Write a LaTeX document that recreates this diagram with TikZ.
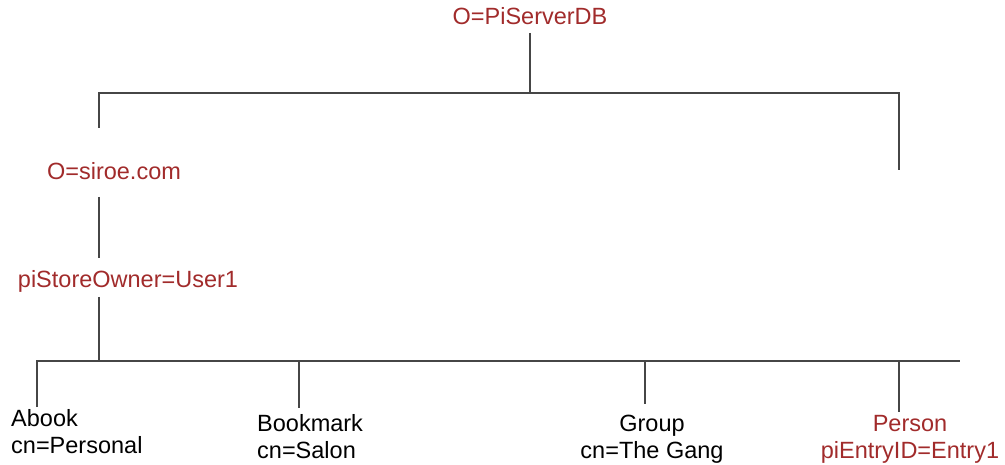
\documentclass[tikz,border=0pt]{standalone}
\usepackage{fontspec}
\setmainfont{Liberation Sans}
\usetikzlibrary{calc}
\definecolor{dnred}{HTML}{A12B2B}
\definecolor{treegray}{HTML}{464646}

\begin{document}
\begin{tikzpicture}
	[x=1pt,y=-1pt,
	entry/.style={font=\fontsize{23.5}{27}\selectfont, inner sep=0pt},
	dnentry/.style={entry, text=dnred},
	branch/.style={draw=treegray, line width=1.3pt}]

	\useasboundingbox (0,0) rectangle (1005,465);

	%Bus coordinates
	\coordinate (topl) at (99,93);
	\coordinate (topr) at (899,93);
	\coordinate (rend) at (899,170);
	\coordinate (jstore) at (99,361);
	\coordinate (lowl) at (37,361);
	\coordinate (lowr) at (960,361);
	\coordinate (jbook) at (299,361);
	\coordinate (jgroup) at (645,361);
	\coordinate (jperson) at (899,361);

	%Entries
	\node[dnentry, anchor=base] (root) at (530,25) {O=PiServerDB};
	\node[dnentry, anchor=base] (siroe) at (114,180) {O=siroe.com};
	\node[dnentry, anchor=base] (owner) at (128,288) {piStoreOwner=User1};
	\node[entry, anchor=north west, align=left] (abook) at (11,409) {Abook\\cn=Personal};
	\node[entry, anchor=north west, align=left] (bookmark) at (257,414) {Bookmark\\cn=Salon};
	\node[entry, anchor=north, align=center] (group) at (652,415) {Group\\cn=The Gang};
	\node[dnentry, anchor=north, align=center] (person) at (910,415) {Person\\piEntryID=Entry1};

	%Upper tree
	\draw[branch, shorten <=8pt] (root.base) -- (root.base |- topl);
	\draw[branch, shorten <=52pt] (siroe.base -| topl) -- (topl) -- (topr) -- (rend);
	\draw[branch, shorten <=17pt, shorten >=30pt] (siroe.base -| topl) -- (owner.base -| topl);
	\draw[branch, shorten <=9pt] (owner.base -| jstore) -- (jstore);

	%Lower tree
	\draw[branch, shorten <=2pt] (abook.north -| lowl) -- (lowl) -- (lowr);
	\draw[branch, shorten >=6pt] (jbook) -- (jbook |- bookmark.north);
	\draw[branch, shorten >=11pt] (jgroup) -- (jgroup |- group.north);
	\draw[branch, shorten >=3pt] (jperson) -- (jperson |- person.north);
\end{tikzpicture}
\end{document}
